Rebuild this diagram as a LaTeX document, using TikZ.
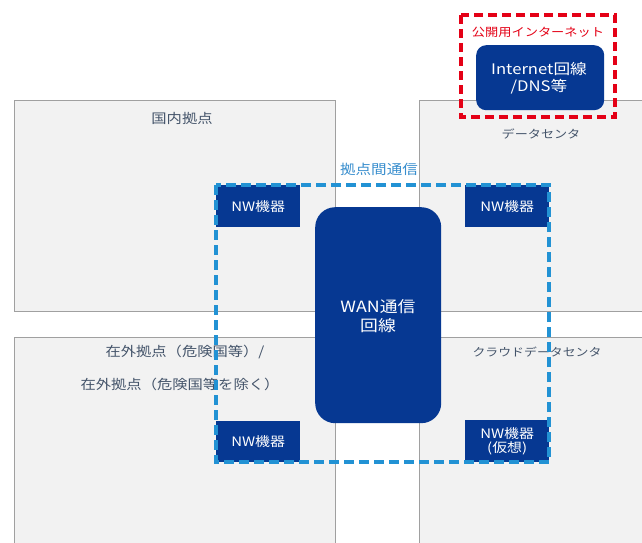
\documentclass[tikz,border=0pt]{standalone}
\usepackage{fontspec}
\setmainfont{Noto Sans CJK JP}[FakeStretch=1.15]
\definecolor{navy}{RGB}{6,56,146}
\definecolor{boxgray}{RGB}{242,242,242}
\definecolor{edgegray}{RGB}{160,160,160}
\definecolor{dashblue}{RGB}{34,146,212}
\definecolor{lblue}{RGB}{56,142,206}
\definecolor{dred}{RGB}{228,0,22}
\definecolor{labelc}{RGB}{68,84,106}
\newcommand{\fs}[1]{\fontsize{#1}{#1}\selectfont}
\tikzset{
  site/.style={draw=edgegray, line width=1.4pt, fill=boxgray, anchor=north west, inner sep=0pt},
  lbl/.style={text=labelc, inner sep=0pt, font=\fs{13.3}},
  nwbox/.style={fill=navy, text=white, anchor=north west, inner sep=0pt, align=center, font=\fs{13}},
  bluedash/.style={draw=dashblue, line width=3.4pt, dash pattern=on 10pt off 5pt},
  reddash/.style={draw=dred, line width=3.4pt, dash pattern=on 9pt off 5pt},
}
\begin{document}
\begin{tikzpicture}[x=1pt,y=-1pt]
\useasboundingbox (0,0) rectangle (642,543);
\clip (0,0) rectangle (642,543);
\fill[white] (0,0) rectangle (642,543);
% sites
\node[site, minimum width=321pt, minimum height=211pt] (dom) at (14,100) {};
\node[site, minimum width=240pt, minimum height=211pt] (dc) at (419,100) {};
\node[site, minimum width=321pt, minimum height=220pt] (ovs) at (14,337) {};
\node[site, minimum width=240pt, minimum height=220pt] (cdc) at (419,337) {};
% labels
\node[lbl] (domlbl) at (182,118) {国内拠点};
\node[lbl, font=\fs{11.4}] (dclbl) at (541,134) {データセンタ};
\node[lbl] (ovs1) at (185,352) {在外拠点（危険国等）/};
\node[lbl] (ovs2) at (180,384) {在外拠点（危険国等を除く）};
\node[lbl, font=\fs{11.2}] (cdclbl) at (537,352) {クラウドデータセンタ};
\node[text=lblue, inner sep=0pt, font=\fs{13.5}] (interlbl) at (379,169) {拠点間通信};
% WAN
\node[fill=navy, text=white, rounded corners=20pt, minimum width=126pt, minimum height=216pt, anchor=north west, inner sep=0pt] (wan) at (315,207) {};
\node[text=white, align=center, inner sep=0pt, font=\fs{15.5}] (wantext) at (378,316) {WAN通信\\[3pt]回線};
% NW devices
\node[nwbox, minimum width=84pt, minimum height=42pt] (nw1) at (216,185) {NW機器};
\node[nwbox, minimum width=84pt, minimum height=42pt] (nw2) at (465,185) {NW機器};
\node[nwbox, minimum width=84pt, minimum height=41pt] (nw3) at (216,421) {NW機器};
\node[nwbox, minimum width=84pt, minimum height=42pt] (nw4) at (465,420) {NW機器\\[1pt](仮想)};
% inter-site dashed frame
\coordinate (f1) at (216,185);
\coordinate (f2) at (549,462);
\draw[bluedash] (f1) rectangle (f2);
% internet
\coordinate (r1) at (461,15);
\coordinate (r2) at (615,117);
\draw[reddash] (r1) rectangle (r2);
\node[text=dred, inner sep=0pt, font=\fs{11.5}] (publbl) at (538,32) {公開用インターネット};
\node[fill=navy, text=white, rounded corners=10pt, minimum width=128pt, minimum height=65pt, anchor=north west, inner sep=0pt] (inet) at (476,45) {};
\node[text=white, align=center, inner sep=0pt, font=\fs{14.5}] (inettext) at (539,78) {Internet回線\\[3pt]/DNS等};
\end{tikzpicture}
\end{document}
